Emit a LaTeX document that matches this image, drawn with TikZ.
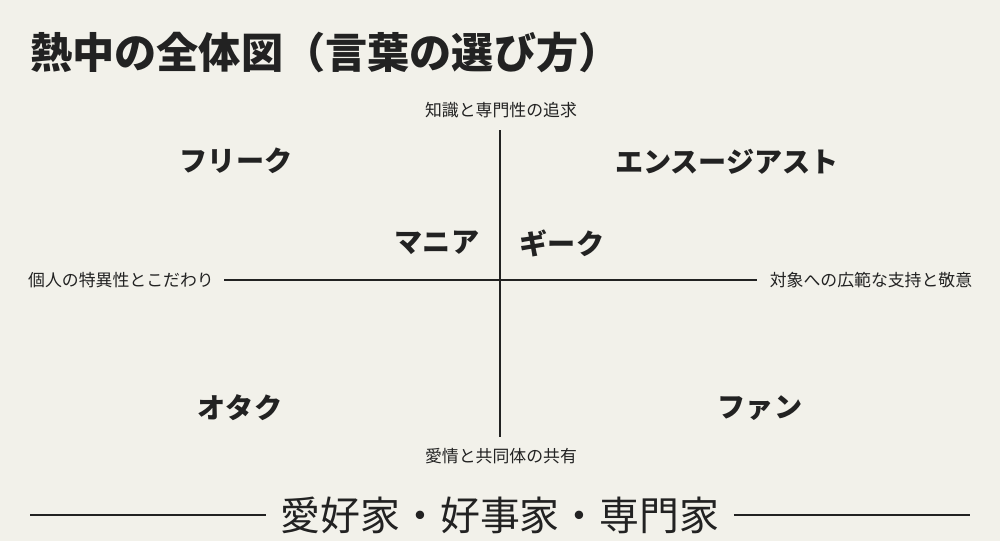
\documentclass[tikz,border=0pt]{standalone}
\usepackage{fontspec}
\newfontfamily\jpfont{Noto Sans CJK JP}
\definecolor{bgcol}{HTML}{F2F1EA}
\definecolor{inkcol}{HTML}{222222}
\tikzset{
	axislabel/.style = {inkcol, font = \jpfont\fontsize{9.6}{11}\selectfont},
	quadlabel/.style = {inkcol, font = \jpfont\bfseries\fontsize{16}{18}\selectfont},
	axisline/.style = {inkcol, line width = 0.6pt}
}
\begin{document}
\begin{tikzpicture}[x = 0.02cm, y = -0.02cm]
	 \fill[bgcol] (0, 0) rectangle (1000, 541);
	 
	 \node[inkcol, anchor = west, font = \jpfont\bfseries\fontsize{24}{28}\selectfont] (title) at (24, 52) {熱中の全体図（言葉の選び方）};
	 
	 \node[axislabel] (top) at (501, 110) {知識と専門性の追求};
	 \node[axislabel] (bottom) at (501, 456) {愛情と共同体の共有};
	 \node[axislabel] (left) at (121, 280) {個人の特異性とこだわり};
	 \node[axislabel] (right) at (871, 280) {対象への広範な支持と敬意};
	 
	 \coordinate (vtop) at (500, 130);
	 \coordinate (vbot) at (500, 437);
	 \coordinate (hleft) at (224, 280);
	 \coordinate (hright) at (757, 280);
	 \draw[axisline] (vtop) -- (vbot);
	 \draw[axisline] (hleft) -- (hright);
	 
	 \node[quadlabel] (freak) at (236, 161) {フリーク};
	 \node[quadlabel] (enthusiast) at (727, 162) {エンスージアスト};
	 \node[quadlabel] (mania) at (437, 243) {マニア};
	 \node[quadlabel] (geek) at (562, 243) {ギーク};
	 \node[quadlabel] (otaku) at (240, 408) {オタク};
	 \node[quadlabel] (fan) at (760, 408) {ファン};
	 
	 \node[inkcol, inner xsep = 8pt, font = \jpfont\fontsize{22.7}{26}\selectfont] (words) at (500, 515) {愛好家・好事家・専門家};
	 \coordinate (lleft) at (30, 515);
	 \coordinate (rright) at (970, 515);
	 \draw[axisline] (lleft) -- (words.west);
	 \draw[axisline] (words.east) -- (rright);
\end{tikzpicture}
\end{document}
